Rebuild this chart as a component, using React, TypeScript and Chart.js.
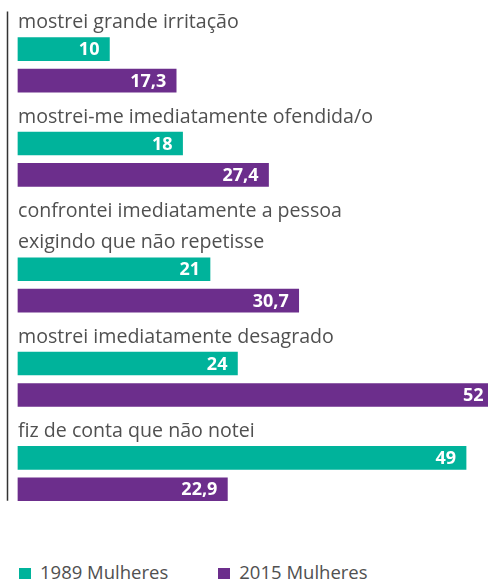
import React, { useEffect, useRef } from "react";
import { Chart, registerables } from "chart.js";

Chart.register(...registerables);

// ---- data ----
const categories: string[][] = [
  ["mostrei grande irritação"],
  ["mostrei-me imediatamente ofendida/o"],
  ["confrontei imediatamente a pessoa", "exigindo que não repetisse"],
  ["mostrei imediatamente desagrado"],
  ["fiz de conta que não notei"],
];
const seriesNames = ["1989 Mulheres", "2015 Mulheres"];
const values1989 = [10, 18, 21, 24, 49];
const values2015 = [17.3, 27.4, 30.7, 52, 22.9];

// ---- styles ----
const COLORS = ["#00B39B", "#6C2E8C"];
const TEXT = "#505050";
const FONT = "'Open Sans', sans-serif";

// Build one row per label line and one row per bar
const rowLabels: string[] = [];
const rows1989: (number | null)[] = [];
const rows2015: (number | null)[] = [];
categories.forEach((lines, i) => {
  lines.forEach((l) => {
    rowLabels.push(l);
    rows1989.push(null);
    rows2015.push(null);
  });
  rowLabels.push("");
  rows1989.push(values1989[i]);
  rows2015.push(null);
  rowLabels.push("");
  rows1989.push(null);
  rows2015.push(values2015[i]);
});

const fmt = (v: number) => String(v).replace(".", ",");

const valueLabels = {
  id: "valueLabels",
  afterDatasetsDraw(chart: any) {
    const ctx = chart.ctx;
    ctx.save();
    ctx.font = `bold 18px ${FONT}`;
    ctx.fillStyle = "#ffffff";
    ctx.textAlign = "right";
    ctx.textBaseline = "middle";
    chart.data.datasets.forEach((ds: any, di: number) => {
      const meta = chart.getDatasetMeta(di);
      meta.data.forEach((el: any, i: number) => {
        const v = ds.data[i];
        if (v === null || v === undefined) return;
        ctx.fillText(fmt(v), el.x - 10, el.y + 1);
      });
    });
    ctx.restore();
  },
};

const axisLine = {
  id: "axisLine",
  afterDraw(chart: any) {
    const ctx = chart.ctx;
    const y = chart.scales.y;
    const pitch = y.height / rowLabels.length;
    const top = y.getPixelForValue(0) - pitch * 0.2;
    const lastMeta = chart.getDatasetMeta(1);
    const lastEl = lastMeta.data[lastMeta.data.length - 1];
    const bottom = lastEl.y + lastEl.height / 2;
    const x = chart.chartArea.left + 0.5;
    ctx.save();
    ctx.strokeStyle = "#333333";
    ctx.lineWidth = 1.5;
    ctx.beginPath();
    ctx.moveTo(x, top);
    ctx.lineTo(x, bottom);
    ctx.stroke();
    ctx.restore();
  },
};

export default function App() {
  const ref = useRef<HTMLCanvasElement | null>(null);

  useEffect(() => {
    if (!ref.current) return;
    const chart = new Chart(ref.current, {
      type: "bar",
      data: {
        labels: rowLabels.map((_, i) => String(i)),
        datasets: [
          {
            label: seriesNames[0],
            data: rows1989 as any,
            backgroundColor: COLORS[0],
            grouped: false,
            barThickness: 23,
          } as any,
          {
            label: seriesNames[1],
            data: rows2015 as any,
            backgroundColor: COLORS[1],
            grouped: false,
            barThickness: 23,
          } as any,
        ],
      },
      options: {
        indexAxis: "y",
        animation: false,
        responsive: false,
        maintainAspectRatio: false,
        layout: { padding: { top: 2, bottom: 35, left: 0, right: 0 } },
        plugins: {
          legend: { display: false },
          tooltip: { enabled: false },
        },
        scales: {
          x: { display: false, min: -1.2, max: 51.4 },
          y: {
            type: "category",
            grid: { display: false },
            border: { display: false },
            ticks: {
              mirror: true,
              padding: 11,
              autoSkip: false,
              labelOffset: 5,
              color: TEXT,
              font: { family: FONT, size: 19.6 },
              callback: (_v: any, i: number) => rowLabels[i],
            },
            afterFit: (s: any) => {
              s.width = 7;
              s.paddingTop = 0;
              s.paddingBottom = 0;
            },
          } as any,
        },
      },
      plugins: [valueLabels, axisLine],
    });
    return () => chart.destroy();
  }, []);

  return (
    <div
      style={{
        position: "absolute",
        left: 0,
        top: 0,
        width: 488,
        height: 582,
        background: "#ffffff",
        overflow: "hidden",
      }}
    >
      <canvas ref={ref} width={488} height={540} style={{ display: "block" }} />
      <div
        style={{
          position: "absolute",
          left: 19,
          top: 562,
          height: 20,
          display: "flex",
          alignItems: "center",
          gap: 50,
          fontFamily: FONT,
          fontSize: 18.5,
          lineHeight: "20px",
          color: TEXT,
        }}
      >
        {seriesNames.map((name, i) => (
          <div key={name} style={{ display: "flex", alignItems: "center" }}>
            <span
              style={{
                display: "inline-block",
                width: 12,
                height: 11,
                marginTop: 3,
                marginRight: 9,
                background: COLORS[i],
              }}
            />
            <span>{name}</span>
          </div>
        ))}
      </div>
    </div>
  );
}
